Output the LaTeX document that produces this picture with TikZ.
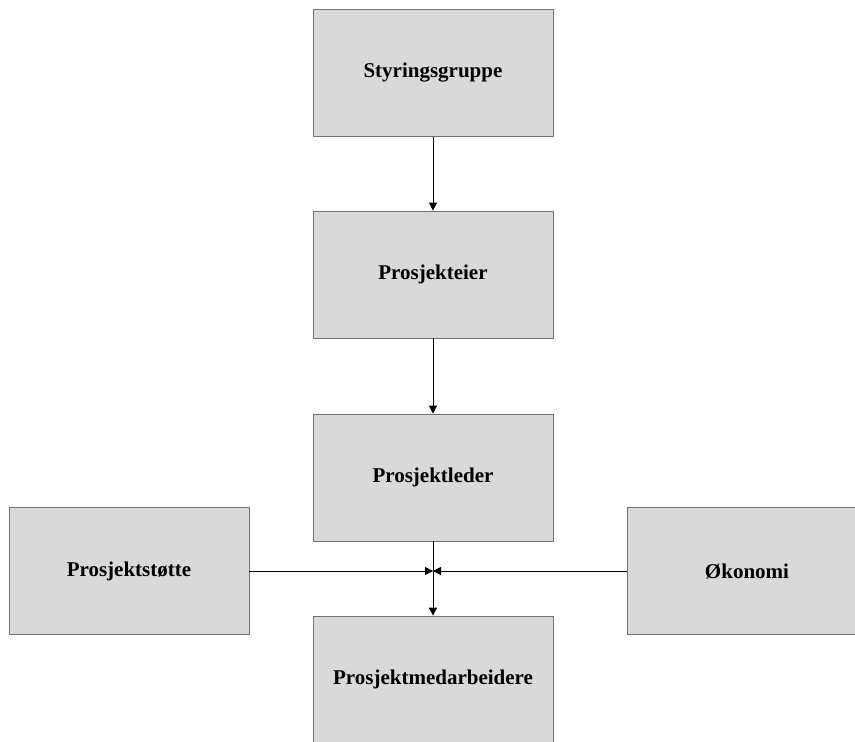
\documentclass[tikz,border=0pt]{standalone}
\usepackage{fontspec}
\setmainfont{Liberation Serif}
\usetikzlibrary{arrows.meta}
\begin{document}
\begin{tikzpicture}[x=1pt,y=-1pt,
  box/.style={draw=black!55, line width=0.8pt, fill=black!15, minimum width=240pt, minimum height=127pt, inner sep=0pt,
    font=\fontsize{21}{25}\selectfont\bfseries},
  conn/.style={draw=black, line width=0.8pt, -{Triangle[length=8pt,width=8pt]}}]
\useasboundingbox (0,0) rectangle (855,742);
\clip (0,0) rectangle (855,742);
\node[box] (sty) at (433,72.75) {Styringsgruppe};
\node[box] (eier) at (433,274.5) {Prosjekteier};
\node[box] (leder) at (433,477.5) {Prosjektleder};
\node[box] (stotte) at (129,571) {Prosjektstøtte};
\node[box] (okon) at (747,571) {Økonomi};
\node[box] (med) at (433,679.5) {Prosjektmedarbeidere};
\coordinate (mid) at (433,571);
\draw[conn] (sty.south) -- (eier.north);
\draw[conn] (eier.south) -- (leder.north);
\draw[conn] (leder.south) -- (med.north);
\draw[conn] (stotte.east) -- (mid);
\draw[conn] (okon.west) -- (mid);
\end{tikzpicture}
\end{document}
